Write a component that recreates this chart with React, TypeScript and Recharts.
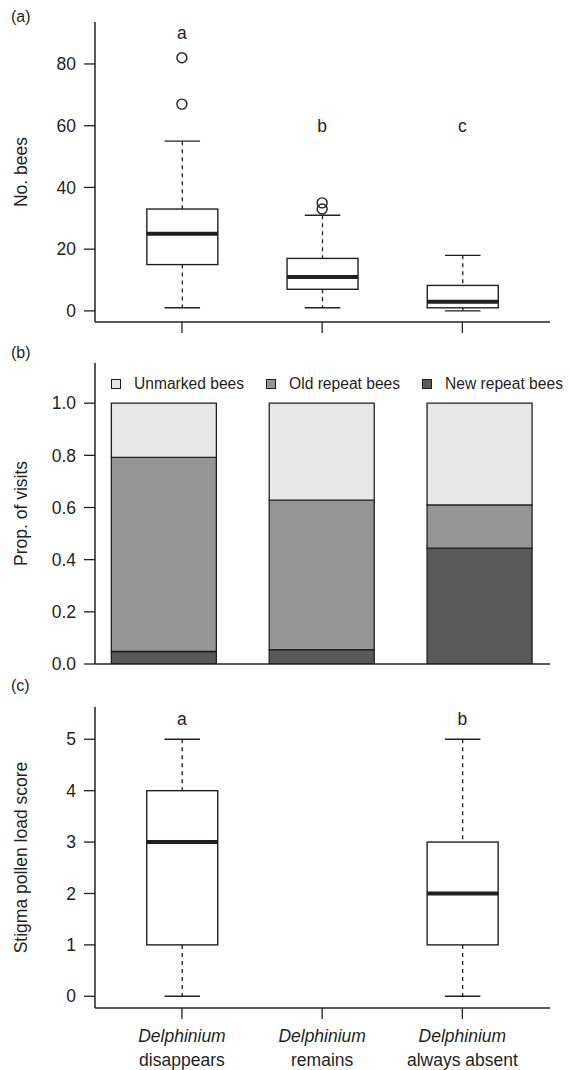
import React from 'react';
import { ComposedChart, Bar, Scatter, XAxis, YAxis, Legend } from 'recharts';

const INK = '#231f20';
const FONT = '"Liberation Sans", Arial, Helvetica, sans-serif';
const FS = 17.5;

// shared categories
const groupX = [1, 2, 3];
const genusLabel = 'Delphinium';
const statusLabels = ['disappears', 'remains', 'always absent'];

// (a) number of bees
const beesLow = [1, 1, 0];
const beesQ1 = [15, 7, 1];
const beesMedian = [25, 11, 3];
const beesQ3 = [33, 17, 8.25];
const beesHigh = [55, 31, 18];
const beesOutliers = [[82, 67], [35, 33], []];
const beesLetters = ['a', 'b', 'c'];
const beesLetterY = [90, 60, 60];
const beesTicks = [0, 20, 40, 60, 80];

// (b) proportion of visits
const visitSeries = ['Unmarked bees', 'Old repeat bees', 'New repeat bees'];
const visitColors = ['#e6e7e8', '#939598', '#58595b'];
const unmarkedProp = [0.208, 0.372, 0.39];
const oldRepeatProp = [0.744, 0.573, 0.166];
const newRepeatProp = [0.048, 0.055, 0.444];
const propTicks = [0, 0.2, 0.4, 0.6, 0.8, 1.0];

// (c) stigma pollen load score
const pollenX = [1, 3];
const pollenLow = [0, 0];
const pollenQ1 = [1, 1];
const pollenMedian = [3, 2];
const pollenQ3 = [4, 3];
const pollenHigh = [5, 5];
const pollenLetters = ['a', 'b'];
const pollenLetterY = [5.4, 5.4];
const pollenTicks = [0, 1, 2, 3, 4, 5];

const beesBoxData = groupX.map((x, i) => ({
  x,
  range: [beesLow[i], beesHigh[i]],
  q1: beesQ1[i],
  median: beesMedian[i],
  q3: beesQ3[i],
}));
const beesOutlierData = groupX.flatMap((x, i) => beesOutliers[i].map((y) => ({ x, y })));
const beesLetterData = groupX.map((x, i) => ({ x, y: beesLetterY[i], label: beesLetters[i] }));

const visitData = groupX.map((x, i) => ({
  x,
  newRepeat: newRepeatProp[i],
  oldRepeat: oldRepeatProp[i],
  unmarked: unmarkedProp[i],
}));

const pollenBoxData = pollenX.map((x, i) => ({
  x,
  range: [pollenLow[i], pollenHigh[i]],
  q1: pollenQ1[i],
  median: pollenMedian[i],
  q3: pollenQ3[i],
}));
const pollenLetterData = pollenX.map((x, i) => ({ x, y: pollenLetterY[i], label: pollenLetters[i] }));

const BoxShape = (props: any) => {
  const { x, y, width, height, payload } = props;
  if (!payload || height == null) return null;
  const [lo, hi] = payload.range;
  const k = height / (hi - lo);
  const py = (v: number) => y + (hi - v) * k;
  const cx = x + width / 2;
  const capHalf = width / 4;
  return (
    <g>
      <line x1={cx} x2={cx} y1={py(hi)} y2={py(payload.q3)} stroke={INK} strokeWidth={1.3} strokeDasharray="4 4" />
      <line x1={cx} x2={cx} y1={py(payload.q1)} y2={py(lo)} stroke={INK} strokeWidth={1.3} strokeDasharray="4 4" />
      <line x1={cx - capHalf} x2={cx + capHalf} y1={py(hi)} y2={py(hi)} stroke={INK} strokeWidth={1.4} />
      <line x1={cx - capHalf} x2={cx + capHalf} y1={py(lo)} y2={py(lo)} stroke={INK} strokeWidth={1.4} />
      <rect x={x} y={py(payload.q3)} width={width} height={py(payload.q1) - py(payload.q3)} fill="#ffffff" stroke={INK} strokeWidth={1.4} />
      <line x1={x} x2={x + width} y1={py(payload.median)} y2={py(payload.median)} stroke={INK} strokeWidth={4} />
    </g>
  );
};

const OutlierShape = (props: any) => (
  <circle cx={props.cx} cy={props.cy} r={5} fill="none" stroke={INK} strokeWidth={1.4} />
);

const LetterShape = (props: any) => (
  <text x={props.cx} y={props.cy} dy="0.35em" textAnchor="middle" fontSize={FS} fontFamily={FONT} fill={INK}>
    {props.payload.label}
  </text>
);

const yTitle = (text: string) => (props: any) => {
  const vb = props.viewBox || { x: 0, y: 0, width: 0, height: 0 };
  const cx = 21;
  const cy = vb.y + vb.height / 2;
  return (
    <text x={cx} y={cy} transform={`rotate(-90 ${cx} ${cy})`} textAnchor="middle" dy="0.35em" fontSize={FS} fontFamily={FONT} fill={INK}>
      {text}
    </text>
  );
};

const noTick = () => <g />;

const CategoryTick = (props: any) => {
  const { x, y, payload } = props;
  const i = Math.round(payload.value) - 1;
  return (
    <g>
      <text x={x} y={y} dy={23} textAnchor="middle" fontSize={FS} fontFamily={FONT} fill={INK} fontStyle="italic">
        {genusLabel}
      </text>
      <text x={x} y={y} dy={46.5} textAnchor="middle" fontSize={FS} fontFamily={FONT} fill={INK}>
        {statusLabels[i]}
      </text>
    </g>
  );
};

const tickStyle = { fill: INK, fontSize: FS, fontFamily: FONT };
const axisLineStyle = { stroke: INK, strokeWidth: 1.5 };
const tickLineStyle = { stroke: INK, strokeWidth: 1.3 };

const LegendContent = () => (
  <div style={{ display: 'flex', alignItems: 'center', height: 20, whiteSpace: 'nowrap', fontFamily: FONT, fontSize: 15.6, color: INK }}>
    {visitSeries.map((name, i) => (
      <div key={name} style={{ display: 'flex', alignItems: 'center', marginRight: 22 }}>
        <div style={{ width: 8, height: 8, background: visitColors[i], border: `1px solid ${INK}`, marginRight: 13 }} />
        <span>{name}</span>
      </div>
    ))}
  </div>
);

const PanelLabel = ({ text, top }: { text: string; top: number }) => (
  <div style={{ position: 'absolute', left: 11, top, fontFamily: FONT, fontSize: 16, lineHeight: '16px', color: INK }}>{text}</div>
);

export default function App() {
  return (
    <div style={{ position: 'absolute', left: 0, top: 0, width: 569, height: 1070, background: '#ffffff' }}>
      <PanelLabel text="(a)" top={9} />
      <PanelLabel text="(b)" top={345} />
      <PanelLabel text="(c)" top={678} />

      {/* (a) */}
      <div style={{ position: 'absolute', left: 0, top: 0 }}>
        <ComposedChart width={569} height={340} data={beesBoxData} margin={{ top: 22, right: 19, bottom: 0, left: 0 }}>
          <XAxis dataKey="x" type="number" domain={[0.38, 3.625]} allowDataOverflow ticks={groupX} interval={0} tick={noTick} tickSize={11} height={18} axisLine={axisLineStyle} tickLine={tickLineStyle} />
          <YAxis type="number" domain={[-3.6, 93.6]} allowDataOverflow ticks={beesTicks} interval={0} width={95} tickSize={11} tickMargin={8} tick={tickStyle} axisLine={axisLineStyle} tickLine={tickLineStyle} label={{ content: yTitle('No. bees') }} />
          <Bar dataKey="range" barSize={71} shape={BoxShape} isAnimationActive={false} />
          <Scatter data={beesOutlierData} dataKey="y" shape={OutlierShape} isAnimationActive={false} />
          <Scatter data={beesLetterData} dataKey="y" shape={LetterShape} isAnimationActive={false} />
        </ComposedChart>
      </div>

      {/* (b) */}
      <div style={{ position: 'absolute', left: 0, top: 340 }}>
        <ComposedChart width={569} height={340} data={visitData} margin={{ top: 23, right: 19, bottom: 0, left: 0 }}>
          <XAxis dataKey="x" type="number" domain={[0.561, 3.4435]} allowDataOverflow ticks={groupX} tick={false} tickLine={false} height={16} axisLine={axisLineStyle} />
          <YAxis type="number" domain={[0, 1.154]} allowDataOverflow ticks={propTicks} interval={0} width={95} tickSize={11} tickMargin={8} tick={tickStyle} tickFormatter={(v: number) => v.toFixed(1)} axisLine={axisLineStyle} tickLine={tickLineStyle} label={{ content: yTitle('Prop. of visits') }} />
          <Bar dataKey="newRepeat" name={visitSeries[2]} stackId="s" barSize={105} fill={visitColors[2]} stroke={INK} strokeWidth={1.3} isAnimationActive={false} />
          <Bar dataKey="oldRepeat" name={visitSeries[1]} stackId="s" barSize={105} fill={visitColors[1]} stroke={INK} strokeWidth={1.3} isAnimationActive={false} />
          <Bar dataKey="unmarked" name={visitSeries[0]} stackId="s" barSize={105} fill={visitColors[0]} stroke={INK} strokeWidth={1.3} isAnimationActive={false} />
          <Legend layout="horizontal" verticalAlign="middle" align="center" wrapperStyle={{ top: 34, left: 111, width: 'auto' }} content={LegendContent} />
        </ComposedChart>
      </div>

      {/* (c) */}
      <div style={{ position: 'absolute', left: 0, top: 680 }}>
        <ComposedChart width={569} height={390} data={pollenBoxData} margin={{ top: 27, right: 19, bottom: 0, left: 0 }}>
          <XAxis dataKey="x" type="number" domain={[0.38, 3.625]} allowDataOverflow ticks={groupX} interval={0} tick={CategoryTick} tickSize={11} tickMargin={0} height={62} axisLine={axisLineStyle} tickLine={tickLineStyle} />
          <YAxis type="number" domain={[-0.228, 5.628]} allowDataOverflow ticks={pollenTicks} interval={0} width={95} tickSize={11} tickMargin={8} tick={tickStyle} axisLine={axisLineStyle} tickLine={tickLineStyle} label={{ content: yTitle('Stigma pollen load score') }} />
          <Bar dataKey="range" barSize={71} shape={BoxShape} isAnimationActive={false} />
          <Scatter data={pollenLetterData} dataKey="y" shape={LetterShape} isAnimationActive={false} />
        </ComposedChart>
      </div>
    </div>
  );
}
